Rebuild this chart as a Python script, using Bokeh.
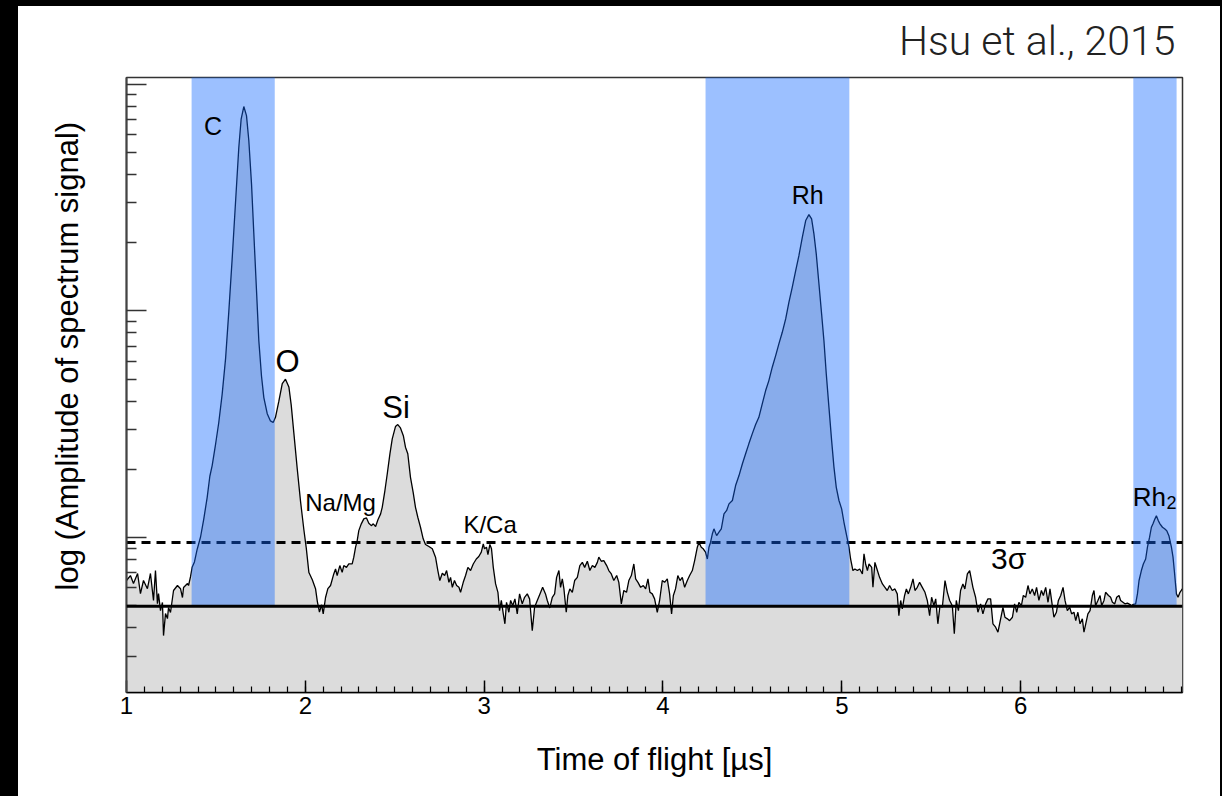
import numpy as np
from bokeh.plotting import figure
from bokeh.models import FixedTicker, Label, Span, Range1d, Title
from bokeh.embed import file_html
from bokeh.resources import INLINE

# ---------------- data ----------------
tof_us = [
    1.000, 1.022, 1.039, 1.062, 1.078, 1.095, 1.117, 1.134, 1.151, 1.162,
    1.173, 1.179, 1.190, 1.201, 1.207, 1.218, 1.229, 1.235, 1.246, 1.263,
    1.285, 1.302, 1.313, 1.319, 1.341, 1.347, 1.358, 1.367, 1.380, 1.395,
    1.414, 1.432, 1.451, 1.466, 1.479, 1.498, 1.516, 1.535, 1.554, 1.572,
    1.591, 1.610, 1.628, 1.641, 1.656, 1.671, 1.684, 1.699, 1.712, 1.727,
    1.740, 1.755, 1.768, 1.787, 1.805, 1.820, 1.833, 1.852, 1.871, 1.889,
    1.908, 1.921, 1.936, 1.955, 1.973, 1.992, 2.005, 2.020, 2.039, 2.057,
    2.067, 2.079, 2.091, 2.100, 2.113, 2.126, 2.141, 2.159, 2.169, 2.178,
    2.193, 2.206, 2.215, 2.230, 2.243, 2.262, 2.271, 2.281, 2.290, 2.299,
    2.313, 2.327, 2.342, 2.355, 2.369, 2.380, 2.393, 2.406, 2.421, 2.430,
    2.445, 2.458, 2.473, 2.486, 2.504, 2.517, 2.532, 2.548, 2.560, 2.573,
    2.588, 2.603, 2.616, 2.629, 2.644, 2.659, 2.672, 2.691, 2.710, 2.728,
    2.741, 2.752, 2.766, 2.779, 2.790, 2.803, 2.812, 2.822, 2.834, 2.846,
    2.859, 2.868, 2.883, 2.896, 2.909, 2.924, 2.939, 2.956, 2.970, 2.984,
    2.995, 3.002, 3.013, 3.021, 3.032, 3.041, 3.051, 3.064, 3.077, 3.086,
    3.096, 3.107, 3.116, 3.125, 3.138, 3.148, 3.160, 3.172, 3.185, 3.198,
    3.213, 3.226, 3.241, 3.254, 3.269, 3.282, 3.297, 3.312, 3.327, 3.343,
    3.353, 3.367, 3.381, 3.394, 3.405, 3.418, 3.427, 3.437, 3.446, 3.459,
    3.468, 3.479, 3.493, 3.506, 3.521, 3.535, 3.549, 3.562, 3.577, 3.591,
    3.605, 3.619, 3.633, 3.641, 3.655, 3.669, 3.685, 3.697, 3.711, 3.725,
    3.741, 3.753, 3.767, 3.781, 3.796, 3.809, 3.823, 3.837, 3.847, 3.860,
    3.875, 3.890, 3.903, 3.916, 3.927, 3.940, 3.953, 3.968, 3.981, 3.996,
    4.009, 4.024, 4.037, 4.048, 4.058, 4.070, 4.083, 4.095, 4.108, 4.121,
    4.136, 4.149, 4.164, 4.177, 4.192, 4.201, 4.214, 4.225, 4.238, 4.248,
    4.257, 4.266, 4.276, 4.285, 4.300, 4.313, 4.326, 4.341, 4.356, 4.369,
    4.388, 4.406, 4.425, 4.444, 4.462, 4.480, 4.499, 4.518, 4.536, 4.555,
    4.574, 4.592, 4.611, 4.630, 4.648, 4.667, 4.686, 4.704, 4.723, 4.742,
    4.760, 4.779, 4.798, 4.816, 4.831, 4.844, 4.857, 4.872, 4.887, 4.900,
    4.913, 4.928, 4.943, 4.956, 4.969, 4.984, 4.999, 5.012, 5.025, 5.040,
    5.049, 5.062, 5.073, 5.087, 5.100, 5.115, 5.124, 5.133, 5.143, 5.152,
    5.167, 5.174, 5.185, 5.199, 5.211, 5.227, 5.241, 5.254, 5.267, 5.282,
    5.297, 5.310, 5.319, 5.329, 5.338, 5.351, 5.361, 5.372, 5.385, 5.398,
    5.409, 5.422, 5.435, 5.450, 5.465, 5.478, 5.491, 5.502, 5.515, 5.525,
    5.537, 5.549, 5.562, 5.577, 5.590, 5.603, 5.618, 5.629, 5.640, 5.652,
    5.664, 5.677, 5.688, 5.702, 5.715, 5.733, 5.748, 5.761, 5.776, 5.789,
    5.804, 5.817, 5.832, 5.845, 5.860, 5.873, 5.888, 5.901, 5.912, 5.926,
    5.938, 5.954, 5.966, 5.978, 5.990, 6.004, 6.015, 6.028, 6.041, 6.052,
    6.065, 6.078, 6.089, 6.102, 6.116, 6.127, 6.140, 6.153, 6.164, 6.177,
    6.186, 6.200, 6.211, 6.224, 6.237, 6.248, 6.261, 6.274, 6.285, 6.298,
    6.308, 6.320, 6.332, 6.345, 6.354, 6.364, 6.376, 6.388, 6.401, 6.410,
    6.419, 6.432, 6.444, 6.453, 6.466, 6.475, 6.491, 6.503, 6.513, 6.526,
    6.537, 6.550, 6.559, 6.572, 6.583, 6.597, 6.610, 6.621, 6.630, 6.643,
    6.653, 6.662, 6.675, 6.686, 6.699, 6.709, 6.721, 6.731, 6.740, 6.751,
    6.759, 6.770, 6.779, 6.793, 6.805, 6.817, 6.829, 6.843, 6.852, 6.861,
    6.871, 6.880, 6.891, 6.904,
]

log_amplitude = [
    -0.189, -0.167, -0.202, -0.158, -0.247, -0.189, -0.225, -0.158, -0.277, -0.145,
    -0.291, -0.247, -0.322, -0.286, -0.432, -0.335, -0.357, -0.308, -0.330, -0.233,
    -0.211, -0.225, -0.264, -0.220, -0.202, -0.211, -0.172, -0.131, -0.107, -0.052,
    0.003, 0.082, 0.177, 0.271, 0.318, 0.412, 0.508, 0.633, 0.790, 0.996,
    1.232, 1.484, 1.721, 1.846, 1.902, 1.862, 1.752, 1.562, 1.342, 1.090,
    0.869, 0.712, 0.618, 0.547, 0.515, 0.508, 0.531, 0.602, 0.680, 0.699,
    0.665, 0.586, 0.460, 0.302, 0.161, 0.034, -0.044, -0.154, -0.186, -0.225,
    -0.281, -0.328, -0.296, -0.336, -0.264, -0.225, -0.211, -0.160, -0.138, -0.167,
    -0.123, -0.153, -0.123, -0.131, -0.116, -0.116, -0.086, -0.042, -0.013, 0.031,
    0.061, 0.083, 0.087, 0.064, 0.053, 0.061, 0.049, 0.079, 0.105, 0.134,
    0.208, 0.281, 0.370, 0.436, 0.490, 0.499, 0.484, 0.450, 0.399, 0.370,
    0.266, 0.200, 0.134, 0.090, 0.046, -0.005, -0.030, -0.039, -0.049, -0.086,
    -0.145, -0.189, -0.157, -0.167, -0.145, -0.197, -0.175, -0.219, -0.189, -0.211,
    -0.219, -0.241, -0.197, -0.167, -0.131, -0.145, -0.116, -0.094, -0.083, -0.064,
    -0.027, -0.049, -0.042, -0.075, -0.030, -0.049, -0.131, -0.204, -0.241, -0.322,
    -0.277, -0.336, -0.380, -0.285, -0.329, -0.277, -0.300, -0.270, -0.336, -0.248,
    -0.292, -0.263, -0.248, -0.270, -0.410, -0.307, -0.277, -0.248, -0.219, -0.248,
    -0.277, -0.310, -0.263, -0.248, -0.175, -0.145, -0.219, -0.182, -0.226, -0.329,
    -0.255, -0.226, -0.241, -0.189, -0.175, -0.123, -0.109, -0.131, -0.104, -0.145,
    -0.123, -0.131, -0.109, -0.086, -0.104, -0.101, -0.123, -0.145, -0.160, -0.189,
    -0.167, -0.197, -0.292, -0.233, -0.241, -0.189, -0.167, -0.116, -0.182, -0.197,
    -0.219, -0.211, -0.226, -0.182, -0.241, -0.248, -0.270, -0.329, -0.277, -0.189,
    -0.197, -0.182, -0.248, -0.336, -0.255, -0.226, -0.167, -0.189, -0.175, -0.219,
    -0.189, -0.167, -0.145, -0.101, -0.042, -0.020, -0.042, -0.049, -0.064, -0.094,
    -0.042, -0.020, 0.017, 0.039, 0.009, 0.024, 0.039, 0.105, 0.120, 0.149,
    0.164, 0.230, 0.274, 0.326, 0.370, 0.414, 0.458, 0.499, 0.531, 0.590,
    0.649, 0.693, 0.752, 0.803, 0.855, 0.906, 0.965, 1.038, 1.105, 1.178,
    1.244, 1.325, 1.399, 1.425, 1.406, 1.340, 1.252, 1.120, 0.987, 0.869,
    0.723, 0.575, 0.428, 0.311, 0.222, 0.164, 0.127, 0.068, 0.017, -0.042,
    -0.094, -0.145, -0.138, -0.145, -0.138, -0.160, -0.071, -0.116, -0.145, -0.116,
    -0.131, -0.219, -0.109, -0.145, -0.175, -0.204, -0.219, -0.233, -0.211, -0.233,
    -0.226, -0.248, -0.344, -0.277, -0.314, -0.255, -0.226, -0.248, -0.219, -0.182,
    -0.233, -0.219, -0.197, -0.219, -0.241, -0.277, -0.344, -0.263, -0.300, -0.270,
    -0.380, -0.300, -0.307, -0.189, -0.241, -0.277, -0.300, -0.424, -0.277, -0.322,
    -0.233, -0.204, -0.226, -0.160, -0.145, -0.219, -0.263, -0.329, -0.292, -0.336,
    -0.292, -0.270, -0.270, -0.380, -0.395, -0.417, -0.358, -0.307, -0.351, -0.358,
    -0.366, -0.351, -0.292, -0.329, -0.285, -0.300, -0.255, -0.263, -0.211, -0.248,
    -0.226, -0.255, -0.219, -0.277, -0.233, -0.255, -0.219, -0.285, -0.226, -0.300,
    -0.351, -0.329, -0.277, -0.255, -0.219, -0.277, -0.322, -0.307, -0.336, -0.329,
    -0.366, -0.329, -0.380, -0.358, -0.417, -0.380, -0.336, -0.322, -0.255, -0.233,
    -0.300, -0.277, -0.255, -0.300, -0.277, -0.241, -0.255, -0.263, -0.285, -0.292,
    -0.263, -0.255, -0.277, -0.285, -0.292, -0.289, -0.294, -0.300, -0.294, -0.292,
    -0.248, -0.189, -0.145, -0.116, -0.094, -0.042, 0.002, 0.046, 0.061, 0.083,
    0.097, 0.075, 0.061, 0.046, 0.039, 0.031, 0.009, -0.042, -0.086, -0.160,
    -0.248, -0.263, -0.241, -0.226,
]

baseline_log = -0.302        # solid reference line
three_sigma_log = -0.023     # dashed 3-sigma line

band_start = [1.364, 4.238, 6.630]
band_end = [1.829, 5.042, 6.872]

x_ticks = [1, 2, 3, 4, 5, 6]
x_limits = [1.0, 6.905]
log_limits = [-0.683, 2.030]

label_texts = ["C", "O", "Si", "Na/Mg", "K/Ca", "Rh", "Rh", "2", "3σ"]
label_x = [1.484, 1.900, 2.507, 2.197, 3.033, 4.809, 6.720, 6.844, 5.933]
label_log_y = [1.815, 0.779, 0.576, 0.153, 0.058, 1.513, 0.178, 0.157, -0.090]
label_sizes = ["25px", "31px", "31px", "24px", "24px", "25px", "26px", "18px", "30px"]

y_title = "log (Amplitude of spectrum signal)"

# ---------------- figure ----------------
amp = 10 ** np.array(log_amplitude)
baseline = 10 ** baseline_log
three_sigma = 10 ** three_sigma_log
y_lo, y_hi = 10 ** log_limits[0], 10 ** log_limits[1]

FONT = "Liberation Sans"

p = figure(
    width=1222, height=796,
    x_range=Range1d(*x_limits), y_range=Range1d(y_lo, y_hi),
    y_axis_type="log",
    output_backend="svg", toolbar_location=None,
    min_border_left=126, min_border_right=40,
    min_border_top=77, min_border_bottom=104,
    background_fill_color="white", border_fill_color=None,
    # dark edges of the original screenshot (left, top and right)
    styles={"box-shadow": "inset 18px 6px 0 0 black, inset -2px 0 0 0 black"},
)

# grey area under the spectrum
p.varea(x=tof_us, y1=[y_lo * 0.5] * len(tof_us), y2=amp, fill_color="#dcdcdc")
# spectrum trace
p.line(tof_us, amp, line_color="black", line_width=1.3)
# 3 sigma dashed line (glyph, so the blue bands tint it)
p.hspan(y=[three_sigma], line_color="black", line_width=3, line_dash="9 6")
# translucent blue bands, from the baseline upwards
p.quad(left=band_start, right=band_end, bottom=[baseline] * 3, top=[y_hi * 20] * 3,
       fill_color=(20, 105, 255), fill_alpha=0.42, line_color=None)
# baseline
p.add_layout(Span(location=baseline, dimension="width", line_color="black", line_width=3))

# labels
for t, lx, ly, fs in zip(label_texts, label_x, label_log_y, label_sizes):
    p.add_layout(Label(x=lx, y=10 ** ly, text=t, text_font=FONT, text_font_size=fs,
                       text_align="center", text_baseline="middle", text_color="black"))

# title
p.title.text = "Hsu et al., 2015"
p.title.align = "right"
p.title.vertical_align = "top"
p.title.text_font = "Roboto Light"
p.title.text_font_style = "normal"
p.title.text_font_size = "41px"
p.title.text_color = "#222222"
p.title.standoff = 22
p.title.offset = 7

# grids / outline
p.xgrid.visible = False
p.ygrid.visible = False
p.outline_line_color = "#333333"
p.outline_line_width = 1.5

# x axis
xa = p.xaxis[0]
xa.ticker = FixedTicker(ticks=x_ticks,
                        minor_ticks=[round(1 + 0.1 * i, 1) for i in range(1, 60)])
xa.major_tick_in = 12
xa.major_tick_out = 0
xa.minor_tick_in = 6
xa.minor_tick_out = 0
xa.axis_line_color = "black"
xa.axis_line_width = 1.5
xa.major_tick_line_width = 1.5
xa.minor_tick_line_width = 1.2
xa.major_label_text_font = FONT
xa.major_label_text_font_size = "24px"
xa.major_label_text_color = "black"
xa.major_label_standoff = 4
xa.axis_label = "Time of flight [µs]"
xa.axis_label_text_font = FONT
xa.axis_label_text_font_size = "31px"
xa.axis_label_text_font_style = "normal"
xa.axis_label_text_color = "black"
xa.axis_label_standoff = 25

# y axis (log, unlabeled ticks)
ya = p.yaxis[0]
ya.ticker = FixedTicker(ticks=[1, 10, 100],
                        minor_ticks=[k * 10.0 ** n for n in (-1, 0, 1) for k in range(2, 10)])
ya.major_tick_in = 20
ya.major_tick_out = 0
ya.minor_tick_in = 10
ya.minor_tick_out = 0
ya.axis_line_color = "#444444"
ya.axis_line_width = 2
ya.major_tick_line_color = "#333333"
ya.minor_tick_line_color = "#333333"
ya.major_tick_line_width = 1.5
ya.minor_tick_line_width = 1.5
ya.major_label_text_font_size = "1px"
ya.major_label_text_color = None
ya.major_label_standoff = 0

# y axis title as a left-side title, so that it can sit a bit above the frame centre
p.add_layout(Title(text=y_title, align="left", offset=102, vertical_align="bottom",
                   standoff=84, text_font=FONT, text_font_size="31px",
                   text_font_style="normal", text_color="black"), "left")

open("out.html", "w").write(file_html(p, INLINE))
